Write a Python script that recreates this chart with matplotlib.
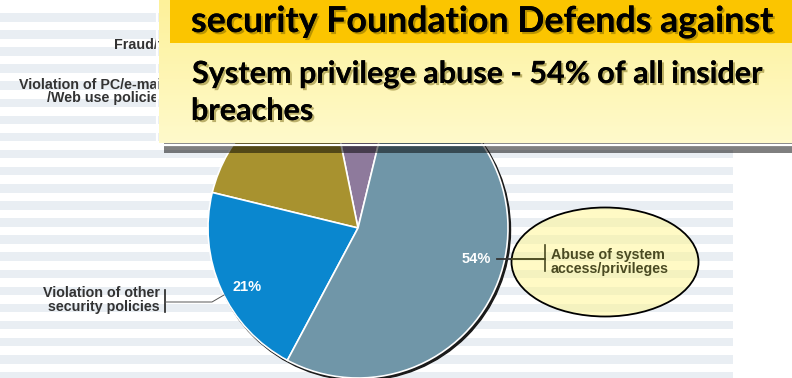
import numpy as np
import matplotlib.pyplot as plt
from matplotlib.patches import Rectangle, Ellipse, Circle
import matplotlib.patheffects as pe

W, H = 792, 378

# donnees du camembert (part des incidents internes, %)
categories = ["Fraud/theft",
              "Violation of PC/e-mail\n/Web use policies",
              "Violation of other\nsecurity policies",
              "Abuse of system\naccess/privileges"]
shares = [7, 18, 21, 54]
colors = ["#8e7a9c", "#a8922f", "#0a87cf", "#7096a8"]

title = "security Foundation Defends against"
subtitle = ["System privilege abuse - 54% of all insider", "breaches"]

fig = plt.figure(figsize=(W / 100, H / 100), dpi=100)
ax = fig.add_axes([0, 0, 1, 1])

# fond raye
for y in np.arange(13, H, 17.1):
    ax.add_patch(Rectangle((0, y), 733, 8.5, color="#e9eef3", lw=0, zorder=0))

# ombre du camembert
ax.add_patch(Circle((360, 230), 150.5, color="#1a1a1a", zorder=1.5))
ax.pie(shares, colors=colors, center=(358, 228), radius=150, startangle=-76.3,
       counterclock=False, frame=True,
       wedgeprops=dict(edgecolor="white", linewidth=1.2, zorder=2))

# etiquettes des parts
lab = dict(fontfamily="Liberation Sans", fontweight="bold", fontsize=10.3,
           color="#333333", zorder=1)
ax.text(114, 45, categories[0], ha="left", va="center", **lab)
l1, l2 = categories[1].split("\n")
ax.text(19, 85, l1, ha="left", va="center", **lab)
ax.text(47, 98, l2, ha="left", va="center", **lab)
ax.text(160, 300, categories[2], ha="right", va="center", linespacing=0.92, **lab)
lab.update(color="#4a4a22", zorder=4.5)
ax.text(551, 262, categories[3], ha="left", va="center", linespacing=0.92, **lab)

# pourcentages visibles
pct = dict(fontfamily="Liberation Sans", fontweight="bold", fontsize=10.5,
           color="white", ha="center", va="center", zorder=3)
ax.text(247, 287, f"{shares[2]}%", **pct)
ax.text(476, 259, f"{shares[3]}%", **pct)

# traits de rappel
ax.plot([165, 165], [290, 312], color="#222222", lw=1.2, zorder=3)
ax.plot([165, 212, 224], [302, 302, 295], color="#555555", lw=0.7, zorder=3)
ax.plot([545, 545], [245, 271], color="#4a4a22", lw=1.2, zorder=4.5)
ax.plot([497, 545], [259, 259], color="#333333", lw=1.3, zorder=3)
ax.plot([512, 545], [259, 259], color="#4a4a22", lw=1.3, zorder=4.5)

# ellipse de mise en evidence
ax.add_patch(Ellipse((605, 262), 187, 109, facecolor=(1.0, 0.97, 0.55, 0.5),
                     edgecolor="black", lw=1.3, zorder=4))

# encadre de la diapo
ax.add_patch(Rectangle((164, 143), 640, 10, facecolor="black", alpha=0.5,
                       lw=0, zorder=5))
grad = np.linspace(0, 1, 100)[:, None]
cmap = plt.matplotlib.colors.LinearSegmentedColormap.from_list(
    "jaune", ["#fdf19a", "#fffacb"])
ax.imshow(grad, cmap=cmap, extent=(159, 800, 143, 0), aspect="auto", zorder=6)
ax.add_patch(Rectangle((157, -5), 650, 150, fill=False, edgecolor="white",
                       lw=1.6, zorder=6.5))
ax.add_patch(Rectangle((170, -5), 640, 48, facecolor="#fbc500", lw=0, zorder=7))

ombre = [pe.withSimplePatchShadow(offset=(1.5, -1.5), shadow_rgbFace="#6b5a00",
                                  alpha=0.45), pe.Normal()]
head = dict(fontfamily="Lato", fontweight="bold", color="black", ha="left",
            va="baseline", zorder=8, path_effects=ombre)
ax.text(191, 32, title, fontsize=25.7, **head)
ax.text(192, 83, subtitle[0], fontsize=22, **head)
ax.text(191, 120, subtitle[1], fontsize=22, **head)

ax.set_xlim(0, W)
ax.set_ylim(H, 0)
ax.set_aspect("auto")
ax.axis("off")
fig.savefig("out.png", dpi=100)
